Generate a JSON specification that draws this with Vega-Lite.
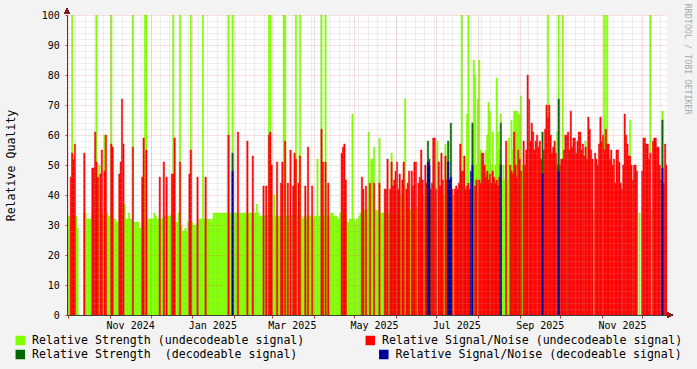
{
"$schema":"https://vega.github.io/schema/vega-lite/v6.json",
"width":600,"height":300,
"autosize":"none",
"padding":{"left":67,"top":15,"right":30,"bottom":54},
"background":"#f3f3f3",
"config":{"view":{"fill":"white","stroke":null},"font":"DejaVu Sans Mono"},
"title":{"text":"RRDTOOL / TOBI OETIKER","orient":"right","anchor":"start","font":"DejaVu Sans Mono","fontSize":8.4,"fontWeight":"normal","color":"#aaaaaa","offset":1,"dx":-5},
"data":{"values":[
{"d":"2024-09-30","s":33},{"d":"2024-10-01","s":33},{"d":"2024-10-02","s":33,"n":46},{"d":"2024-10-03","s":100,"n":54},{"d":"2024-10-04","s":33,"n":52},{"d":"2024-10-05","s":33,"n":57},{"d":"2024-10-06","s":33},{"d":"2024-10-07","s":29},
{"d":"2024-10-12","s":34,"n":54},{"d":"2024-10-13","s":34},{"d":"2024-10-14","s":32},{"d":"2024-10-15","s":32},{"d":"2024-10-16","s":32},{"d":"2024-10-17","s":32},{"d":"2024-10-18","s":34,"n":49},{"d":"2024-10-19","s":34,"n":49},{"d":"2024-10-20","s":34,"n":61},{"d":"2024-10-21","s":100,"n":51},{"d":"2024-10-22","s":34,"n":46},{"d":"2024-10-23","s":50},{"d":"2024-10-24","s":34,"n":47},{"d":"2024-10-25","s":34,"n":55},{"d":"2024-10-26","s":34},{"d":"2024-10-27","s":60,"n":48},{"d":"2024-10-28","s":34,"n":60},{"d":"2024-10-29","s":34},{"d":"2024-10-30","s":33},{"d":"2024-10-31","s":33},
{"d":"2024-11-01","s":100,"n":57},{"d":"2024-11-02","s":33,"n":56},{"d":"2024-11-03","s":32},{"d":"2024-11-04","s":32},{"d":"2024-11-05","s":31},{"d":"2024-11-06","s":31},{"d":"2024-11-07","s":32,"n":47},{"d":"2024-11-08","s":32,"n":51},{"d":"2024-11-09","s":37,"n":72},{"d":"2024-11-10","s":37,"n":57},{"d":"2024-11-11","s":37},{"d":"2024-11-12","s":32},{"d":"2024-11-13","s":32},{"d":"2024-11-14","s":34},{"d":"2024-11-15","s":32},{"d":"2024-11-16","s":32},{"d":"2024-11-17","s":100,"n":56},{"d":"2024-11-18","s":31},{"d":"2024-11-19","s":31},{"d":"2024-11-20","s":31},{"d":"2024-11-21","s":31},{"d":"2024-11-22","s":29},{"d":"2024-11-23","s":29},{"d":"2024-11-24","s":31,"n":46},{"d":"2024-11-25","s":31,"n":59},{"d":"2024-11-26","s":100},{"d":"2024-11-27","s":100,"n":55},{"d":"2024-11-28","s":32},{"d":"2024-11-29","s":32},{"d":"2024-11-30","s":32},
{"d":"2024-12-01","s":32},{"d":"2024-12-02","s":32},{"d":"2024-12-03","s":34},{"d":"2024-12-04","s":33},{"d":"2024-12-05","s":32},{"d":"2024-12-06","s":32},{"d":"2024-12-07","s":32,"n":46},{"d":"2024-12-08","s":32},{"d":"2024-12-09","s":32},{"d":"2024-12-10","s":33,"n":51},{"d":"2024-12-11","s":33},{"d":"2024-12-12","s":33,"n":46},{"d":"2024-12-13","s":33},{"d":"2024-12-14","s":33},{"d":"2024-12-15","s":33},{"d":"2024-12-16","s":34,"n":47},{"d":"2024-12-17","s":100,"n":47},{"d":"2024-12-18","s":31,"n":59},{"d":"2024-12-19","s":31},{"d":"2024-12-20","s":31},{"d":"2024-12-21","s":34},{"d":"2024-12-22","s":100,"n":51},{"d":"2024-12-23","s":30},{"d":"2024-12-24","s":28},{"d":"2024-12-25","s":28},{"d":"2024-12-26","s":29},{"d":"2024-12-27","s":28},{"d":"2024-12-28","s":31},{"d":"2024-12-29","s":31,"n":47},{"d":"2024-12-30","s":100,"n":55},{"d":"2024-12-31","s":31},
{"d":"2025-01-01","s":30},{"d":"2025-01-02","s":30},{"d":"2025-01-03","s":30},{"d":"2025-01-04","s":30,"n":46},{"d":"2025-01-05","s":32},{"d":"2025-01-06","s":32},{"d":"2025-01-07","s":32},{"d":"2025-01-08","s":100},{"d":"2025-01-09","s":32},{"d":"2025-01-10","s":32,"n":46},{"d":"2025-01-11","s":32},{"d":"2025-01-12","s":32},{"d":"2025-01-13","s":32},{"d":"2025-01-14","s":31},{"d":"2025-01-15","s":32},{"d":"2025-01-16","s":34},{"d":"2025-01-17","s":34},{"d":"2025-01-18","s":34},{"d":"2025-01-19","s":34},{"d":"2025-01-20","s":34},{"d":"2025-01-21","s":34},{"d":"2025-01-22","s":34},{"d":"2025-01-23","s":34},{"d":"2025-01-24","s":34},{"d":"2025-01-25","s":34},{"d":"2025-01-26","s":34},{"d":"2025-01-27","s":100,"n":60},{"d":"2025-01-28","s":34},{"d":"2025-01-29","s":34},{"d":"2025-01-30","s":100,"g":54,"b":48},{"d":"2025-01-31","s":34},
{"d":"2025-02-01","s":34},{"d":"2025-02-02","s":34},{"d":"2025-02-03","s":34,"n":61},{"d":"2025-02-04","s":34},{"d":"2025-02-05","s":34},{"d":"2025-02-06","s":34},{"d":"2025-02-07","s":34},{"d":"2025-02-08","s":34},{"d":"2025-02-09","s":34},{"d":"2025-02-10","s":34,"n":58},{"d":"2025-02-11","s":34},{"d":"2025-02-12","s":34},{"d":"2025-02-13","s":34},{"d":"2025-02-14","s":34,"n":53},{"d":"2025-02-15","s":34},{"d":"2025-02-16","s":34},{"d":"2025-02-17","s":37},{"d":"2025-02-18","s":34},{"d":"2025-02-19","s":33},{"d":"2025-02-20","s":33},{"d":"2025-02-21","s":33},{"d":"2025-02-22","s":33,"n":43},{"d":"2025-02-23","s":33},{"d":"2025-02-24","s":33,"n":43},{"d":"2025-02-25","s":33},{"d":"2025-02-26","s":100,"n":60},{"d":"2025-02-27","s":100,"n":61},{"d":"2025-02-28","s":33,"n":50},
{"d":"2025-03-01","s":33},{"d":"2025-03-02","s":40},{"d":"2025-03-03","s":33},{"d":"2025-03-04","s":33,"n":51},{"d":"2025-03-05","s":33},{"d":"2025-03-06","s":33},{"d":"2025-03-07","s":33,"n":44},{"d":"2025-03-08","s":33,"n":51},{"d":"2025-03-09","s":100},{"d":"2025-03-10","s":100,"n":58},{"d":"2025-03-11","s":33},{"d":"2025-03-12","s":33,"n":44},{"d":"2025-03-13","s":33},{"d":"2025-03-14","s":33,"n":55},{"d":"2025-03-15","s":33},{"d":"2025-03-16","s":33,"n":43},{"d":"2025-03-17","s":33,"n":54},{"d":"2025-03-18","s":100,"n":52},{"d":"2025-03-19","s":33},{"d":"2025-03-20","s":33,"n":44},{"d":"2025-03-21","s":100,"n":53},{"d":"2025-03-22","s":33},{"d":"2025-03-23","s":32},{"d":"2025-03-24","s":33},{"d":"2025-03-25","s":33,"n":43},{"d":"2025-03-26","s":32},{"d":"2025-03-27","s":33,"n":56},{"d":"2025-03-28","s":33},{"d":"2025-03-29","s":33},{"d":"2025-03-30","s":33,"n":43},{"d":"2025-03-31","s":32},
{"d":"2025-04-01","s":33},{"d":"2025-04-02","s":33},{"d":"2025-04-03","s":52},{"d":"2025-04-04","s":33},{"d":"2025-04-05","s":33},{"d":"2025-04-06","s":100,"n":62},{"d":"2025-04-07","s":33,"n":51},{"d":"2025-04-08","s":33},{"d":"2025-04-09","s":100,"n":51},{"d":"2025-04-10","s":33},{"d":"2025-04-11","s":33,"n":44},{"d":"2025-04-12","s":33},{"d":"2025-04-13","s":34},{"d":"2025-04-14","s":34},{"d":"2025-04-15","s":33},{"d":"2025-04-16","s":33},{"d":"2025-04-17","s":33},{"d":"2025-04-18","s":32},{"d":"2025-04-19","s":32},{"d":"2025-04-20","s":34},{"d":"2025-04-21","s":34,"n":54},{"d":"2025-04-22","s":34,"n":56},{"d":"2025-04-23","s":34,"n":57},{"d":"2025-04-24","s":34,"n":45},{"d":"2025-04-25","s":31},{"d":"2025-04-26","s":31},{"d":"2025-04-27","s":32},{"d":"2025-04-28","s":32},{"d":"2025-04-29","s":67},{"d":"2025-04-30","s":32},
{"d":"2025-05-01","s":31},{"d":"2025-05-02","s":32},{"d":"2025-05-03","s":32},{"d":"2025-05-04","s":33},{"d":"2025-05-05","s":34},{"d":"2025-05-06","s":34,"n":46},{"d":"2025-05-07","s":34,"n":42},{"d":"2025-05-08","s":35},{"d":"2025-05-09","s":35,"n":43},{"d":"2025-05-10","s":35},{"d":"2025-05-11","s":61},{"d":"2025-05-12","s":35,"n":44},{"d":"2025-05-13","s":52},{"d":"2025-05-14","s":52},{"d":"2025-05-15","s":56,"n":44},{"d":"2025-05-16","s":35},{"d":"2025-05-17","s":35},{"d":"2025-05-18","s":34},{"d":"2025-05-19","s":59,"n":44},{"d":"2025-05-20","s":34},{"d":"2025-05-21","s":34},{"d":"2025-05-22","s":34},{"d":"2025-05-23","s":34,"n":42},{"d":"2025-05-24","s":34,"n":42},{"d":"2025-05-25","s":34,"n":52},{"d":"2025-05-26","s":34},{"d":"2025-05-27","s":34,"n":42},{"d":"2025-05-28","s":54,"n":51},{"d":"2025-05-29","s":34,"n":43},{"d":"2025-05-30","s":34,"n":45},{"d":"2025-05-31","s":34,"n":48},
{"d":"2025-06-01","s":34,"n":51},{"d":"2025-06-02","s":34,"n":42},{"d":"2025-06-03","s":34,"n":47},{"d":"2025-06-04","s":40},{"d":"2025-06-05","s":34,"n":45},{"d":"2025-06-06","s":34,"n":51},{"d":"2025-06-07","s":72},{"d":"2025-06-08","s":40,"n":42},{"d":"2025-06-09","s":34,"n":44},{"d":"2025-06-10","s":34,"n":48},{"d":"2025-06-11","s":35},{"d":"2025-06-12","s":34,"n":48},{"d":"2025-06-13","s":34,"n":43},{"d":"2025-06-14","s":34,"n":51},{"d":"2025-06-15","s":34,"n":51},{"d":"2025-06-16","s":36},{"d":"2025-06-17","s":34,"n":44},{"d":"2025-06-18","s":34,"n":46},{"d":"2025-06-19","s":34,"n":55},{"d":"2025-06-20","s":34,"n":45},{"d":"2025-06-21","s":40},{"d":"2025-06-22","s":34,"n":50},{"d":"2025-06-23","s":34,"n":44},{"d":"2025-06-24","s":34,"g":58,"b":51},{"d":"2025-06-25","s":34,"g":52,"b":50},{"d":"2025-06-26","s":34,"n":42},{"d":"2025-06-27","s":34,"n":44},{"d":"2025-06-28","s":34,"n":59},{"d":"2025-06-29","s":34,"n":59},{"d":"2025-06-30","s":40,"n":42},
{"d":"2025-07-01","s":58},{"d":"2025-07-02","s":34,"n":51},{"d":"2025-07-03","s":34,"n":43},{"d":"2025-07-04","s":34,"n":54},{"d":"2025-07-05","s":34,"n":45},{"d":"2025-07-06","s":40},{"d":"2025-07-07","s":57,"n":53},{"d":"2025-07-08","s":34,"n":45},{"d":"2025-07-09","s":34,"g":58,"b":51},{"d":"2025-07-10","s":34,"b":45},{"d":"2025-07-11","s":34,"g":64,"b":46},{"d":"2025-07-12","s":34,"n":42},{"d":"2025-07-13","s":40},{"d":"2025-07-14","s":34,"n":42},{"d":"2025-07-15","s":34,"n":43},{"d":"2025-07-16","s":34,"n":42},{"d":"2025-07-17","s":34,"n":44},{"d":"2025-07-18","s":34,"n":57},{"d":"2025-07-19","s":100,"n":48},{"d":"2025-07-20","s":40,"n":48},{"d":"2025-07-21","s":34,"n":53},{"d":"2025-07-22","s":34,"n":42},{"d":"2025-07-23","s":67,"n":43},{"d":"2025-07-24","s":100,"n":44},{"d":"2025-07-25","s":40,"n":42},{"d":"2025-07-26","s":34,"b":48},{"d":"2025-07-27","s":34,"g":64,"b":50},{"d":"2025-07-28","s":85},{"d":"2025-07-29","s":80,"n":43},{"d":"2025-07-30","s":50,"n":45},{"d":"2025-07-31","s":72},
{"d":"2025-08-01","s":85,"n":45},{"d":"2025-08-02","s":55,"n":44},{"d":"2025-08-03","s":50,"n":54},{"d":"2025-08-04","s":45,"n":54},{"d":"2025-08-05","s":40,"n":50},{"d":"2025-08-06","s":55,"n":46},{"d":"2025-08-07","s":60,"n":48},{"d":"2025-08-08","s":71,"n":45},{"d":"2025-08-09","s":68,"n":47},{"d":"2025-08-10","s":50,"n":44},{"d":"2025-08-11","s":61,"n":48},{"d":"2025-08-12","s":45,"n":46},{"d":"2025-08-13","s":50,"n":44},{"d":"2025-08-14","s":79,"n":45},{"d":"2025-08-15","s":61,"n":43},{"d":"2025-08-16","s":55,"n":46},{"d":"2025-08-17","s":67,"g":64,"b":50},{"d":"2025-08-18","s":45},{"d":"2025-08-19","s":50},{"d":"2025-08-20","s":45},{"d":"2025-08-21","s":50,"n":58},{"d":"2025-08-22","s":45},{"d":"2025-08-23","s":59},{"d":"2025-08-24","s":45,"n":50},{"d":"2025-08-25","s":65,"n":48},{"d":"2025-08-26","s":55,"n":47},{"d":"2025-08-27","s":68,"n":61},{"d":"2025-08-28","s":68,"n":50},{"d":"2025-08-29","s":68,"n":46},{"d":"2025-08-30","s":67,"n":55},{"d":"2025-08-31","s":67,"n":52},
{"d":"2025-09-01","s":73,"n":48},{"d":"2025-09-02","s":50},{"d":"2025-09-03","s":45,"n":58},{"d":"2025-09-04","s":45,"n":50},{"d":"2025-09-05","s":50,"n":55},{"d":"2025-09-06","s":50,"n":80},{"d":"2025-09-07","n":72},{"d":"2025-09-08","n":58},{"d":"2025-09-09","n":64},{"d":"2025-09-10","n":61},{"d":"2025-09-11","n":55},{"d":"2025-09-12","n":58},{"d":"2025-09-13","n":60},{"d":"2025-09-14","n":56},{"d":"2025-09-15","n":58},{"d":"2025-09-16","n":52},{"d":"2025-09-17","g":61,"b":47},{"d":"2025-09-18","n":55},{"d":"2025-09-19","n":62},{"d":"2025-09-20","n":70},{"d":"2025-09-21","s":100,"n":66},{"d":"2025-09-22","n":70},{"d":"2025-09-23","n":60},{"d":"2025-09-24","n":54},{"d":"2025-09-25","n":56},{"d":"2025-09-26","n":58},{"d":"2025-09-27","n":54},{"d":"2025-09-28","s":61,"n":50},{"d":"2025-09-29","s":100,"g":72,"b":48},{"d":"2025-09-30","n":50},
{"d":"2025-10-01","n":52},{"d":"2025-10-02","s":100,"n":52},{"d":"2025-10-03","n":55},{"d":"2025-10-04","n":60},{"d":"2025-10-05","n":60},{"d":"2025-10-06","n":61},{"d":"2025-10-07","n":55},{"d":"2025-10-08","n":68},{"d":"2025-10-09","n":56},{"d":"2025-10-10","n":59},{"d":"2025-10-11","n":59},{"d":"2025-10-12","n":54},{"d":"2025-10-13","n":58},{"d":"2025-10-14","n":61},{"d":"2025-10-15","n":61},{"d":"2025-10-16","n":55},{"d":"2025-10-17","n":57},{"d":"2025-10-18","n":53},{"d":"2025-10-19","s":58,"n":56},{"d":"2025-10-20","n":52},{"d":"2025-10-21","n":66},{"d":"2025-10-22","n":62},{"d":"2025-10-23","n":55},{"d":"2025-10-24","n":52},{"d":"2025-10-25","s":35},{"d":"2025-10-26","n":54},{"d":"2025-10-27","n":52},{"d":"2025-10-28","n":50},{"d":"2025-10-29","n":57},{"d":"2025-10-30","n":66},{"d":"2025-10-31","n":58},
{"d":"2025-11-01","n":60},{"d":"2025-11-02","s":100,"n":55},{"d":"2025-11-03","n":62},{"d":"2025-11-04","s":100,"n":57},{"d":"2025-11-05","n":57},{"d":"2025-11-06","n":52},{"d":"2025-11-07","n":55},{"d":"2025-11-08","n":50},{"d":"2025-11-09","n":52},{"d":"2025-11-10","n":44},{"d":"2025-11-11","n":55},{"d":"2025-11-12","n":55},{"d":"2025-11-13","n":51},{"d":"2025-11-14","n":44},{"d":"2025-11-15","n":42},{"d":"2025-11-16","n":50},{"d":"2025-11-17","n":67},{"d":"2025-11-18","n":60},{"d":"2025-11-19","n":57},{"d":"2025-11-20","n":53},{"d":"2025-11-21","s":65,"n":53},{"d":"2025-11-22","n":50},{"d":"2025-11-23","n":45},{"d":"2025-11-24","n":50},{"d":"2025-11-25","n":50},{"d":"2025-11-26","n":48},{"d":"2025-11-28","s":34},{"d":"2025-11-30","n":48},
{"d":"2025-12-01","n":59},{"d":"2025-12-02","n":59},{"d":"2025-12-03","n":57},{"d":"2025-12-04","n":57},{"d":"2025-12-05","n":52},{"d":"2025-12-06","s":100,"n":54},{"d":"2025-12-07","s":35},{"d":"2025-12-08","n":58},{"d":"2025-12-09","n":59},{"d":"2025-12-10","n":59},{"d":"2025-12-11","n":56},{"d":"2025-12-12","n":56},{"d":"2025-12-13","n":50},{"d":"2025-12-14","n":45},{"d":"2025-12-15","s":68,"g":65,"b":49},{"d":"2025-12-16","n":44},{"d":"2025-12-17","n":57},{"d":"2025-12-18","n":50},{"d":"2025-12-19","n":48}
]},
"layer":[
{"transform":[{"filter":"isValid(datum.s)"}],
 "mark":{"type":"bar","stroke":"#80ff00","strokeWidth":0.5,"binSpacing":0,"clip":true},
 "encoding":{
  "x":{"field":"d","timeUnit":"utcyearmonthdate","type":"temporal","scale":{"type":"utc","domain":[{"year":2024,"month":9,"date":30,"utc":true},{"year":2025,"month":12,"date":19,"hours":6,"utc":true}]},
   "axis":{"orient":"bottom","title":null,"tickCount":{"interval":"month","step":1},"grid":true,"gridColor":"#e06060","gridOpacity":0.4,"gridDash":[1,1],"tickColor":"#c04040","tickSize":3,"domainColor":"#404040","labelFont":"DejaVu Sans Mono","labelFontSize":10,"labelColor":"#000000","labelOffset":20,"labelPadding":2,"labelFlush":false,"labelOverlap":false,"labelBound":false,"labelExpr":"utcmonth(datum.value) % 2 == 0 ? utcFormat(datum.value, '%b %Y') : ''","zindex":1}},
  "y":{"field":"s","type":"quantitative","stack":null,"scale":{"domain":[0,100],"nice":false},
   "axis":{"orient":"left","values":[0,10,20,30,40,50,60,70,80,90,100],"grid":true,"gridColor":"#e06060","gridOpacity":0.4,"gridDash":[1,1],"tickColor":"#c04040","tickSize":2,"domainColor":"#404040","labelFont":"DejaVu Sans Mono","labelFontSize":10,"labelColor":"#000000","labelPadding":5.7,"title":"Relative Quality","titleFont":"DejaVu Sans Mono","titleFontSize":11.6,"titleFontWeight":"normal","titleColor":"#000000","titlePadding":25,"zindex":1}},
  "color":{"datum":"Relative Strength (undecodeable signal)","scale":{"range":["#80ff00"]},
   "legend":{"orient":"none","legendX":-52.5,"legendY":319.7,"title":null,"padding":0,"symbolType":"square","symbolSize":64,"labelFont":"DejaVu Sans Mono","labelFontSize":11.6,"labelColor":"#000000","labelLimit":500,"labelOffset":6,"encode":{"symbols":{"update":{"stroke":{"value":"#000000"},"strokeWidth":{"value":1}}}}}}
 }},
{"transform":[{"filter":"isValid(datum.n)"}],
 "mark":{"type":"bar","stroke":"#ff0000","strokeWidth":0.5,"binSpacing":0,"clip":true},
 "encoding":{
  "x":{"field":"d","timeUnit":"utcyearmonthdate","type":"temporal","scale":{"type":"utc","domain":[{"year":2024,"month":9,"date":30,"utc":true},{"year":2025,"month":12,"date":19,"hours":6,"utc":true}]},
   "axis":{"orient":"bottom","title":null,"tickCount":{"interval":"week","step":1},"grid":true,"gridColor":"#a0a0a0","gridOpacity":0.35,"gridDash":[1,1],"labels":false,"ticks":false,"domain":false,"zindex":1}},
  "y":{"field":"n","type":"quantitative","stack":null,"scale":{"domain":[0,100],"nice":false},
   "axis":{"orient":"left","values":[2,4,6,8,12,14,16,18,22,24,26,28,32,34,36,38,42,44,46,48,52,54,56,58,62,64,66,68,72,74,76,78,82,84,86,88,92,94,96,98],"grid":true,"gridColor":"#a0a0a0","gridOpacity":0.35,"gridDash":[1,1],"labels":false,"ticks":false,"domain":false,"title":null,"zindex":1}},
  "color":{"datum":"Relative Signal/Noise (undecodeable signal)","scale":{"range":["#ff0000"]},
   "legend":{"orient":"none","legendX":297.5,"legendY":319.7,"title":null,"padding":0,"symbolType":"square","symbolSize":64,"labelFont":"DejaVu Sans Mono","labelFontSize":11.6,"labelColor":"#000000","labelLimit":500,"labelOffset":6,"encode":{"symbols":{"update":{"stroke":{"value":"#000000"},"strokeWidth":{"value":1}}}}}}
 }},
{"transform":[{"filter":"isValid(datum.g)"}],
 "mark":{"type":"bar","stroke":"#006600","strokeWidth":0.5,"binSpacing":0,"clip":true},
 "encoding":{
  "x":{"field":"d","timeUnit":"utcyearmonthdate","type":"temporal","axis":null},
  "y":{"field":"g","type":"quantitative","stack":null,"axis":null},
  "color":{"datum":"Relative Strength \u00a0(decodeable signal)","scale":{"range":["#006600"]},
   "legend":{"orient":"none","legendX":-52.5,"legendY":333.7,"title":null,"padding":0,"symbolType":"square","symbolSize":64,"labelFont":"DejaVu Sans Mono","labelFontSize":11.6,"labelColor":"#000000","labelLimit":500,"labelOffset":6,"encode":{"symbols":{"update":{"stroke":{"value":"#000000"},"strokeWidth":{"value":1}}}}}}
 }},
{"transform":[{"filter":"isValid(datum.b)"}],
 "mark":{"type":"bar","stroke":"#000099","strokeWidth":0.5,"binSpacing":0,"clip":true},
 "encoding":{
  "x":{"field":"d","timeUnit":"utcyearmonthdate","type":"temporal","axis":null},
  "y":{"field":"b","type":"quantitative","stack":null,"axis":null},
  "color":{"datum":"Relative Signal/Noise (decodeable signal)","scale":{"range":["#000099"]},
   "legend":{"orient":"none","legendX":311,"legendY":333.7,"title":null,"padding":0,"symbolType":"square","symbolSize":64,"labelFont":"DejaVu Sans Mono","labelFontSize":11.6,"labelColor":"#000000","labelLimit":500,"labelOffset":6,"encode":{"symbols":{"update":{"stroke":{"value":"#000000"},"strokeWidth":{"value":1}}}}}}
 }},
{"mark":{"type":"point","shape":"triangle-right","filled":true,"size":28,"color":"#7f1f1f","opacity":1,"clip":false,"xOffset":3},
 "encoding":{"x":{"datum":{"year":2025,"month":12,"date":19,"hours":6,"utc":true},"type":"temporal","axis":null},"y":{"datum":0,"type":"quantitative","axis":null}}},
{"mark":{"type":"point","shape":"triangle-up","filled":true,"size":28,"color":"#7f1f1f","opacity":1,"clip":false,"yOffset":-4},
 "encoding":{"x":{"datum":{"year":2024,"month":9,"date":30,"utc":true},"type":"temporal","axis":null},"y":{"datum":100,"type":"quantitative","axis":null}}}
],
"resolve":{"scale":{"color":"independent"},"axis":{"x":"independent","y":"independent"}}
}
